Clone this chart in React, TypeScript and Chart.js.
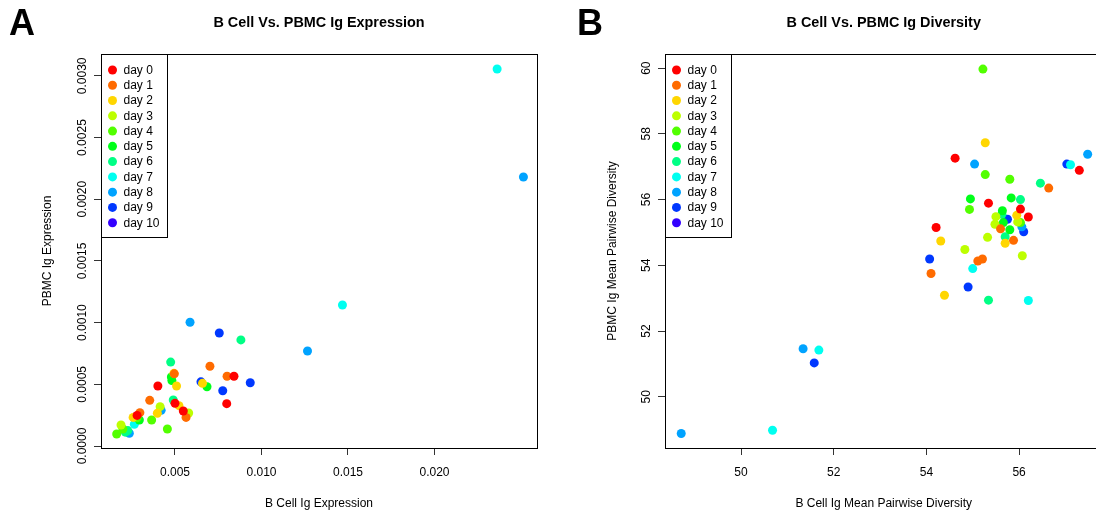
import React, { useEffect, useRef } from 'react';
import { Chart, registerables } from 'chart.js';
Chart.register(...registerables);

const FONT = "'Liberation Sans', Arial, Helvetica, sans-serif";

const dayLabels = ['day 0', 'day 1', 'day 2', 'day 3', 'day 4', 'day 5', 'day 6', 'day 7', 'day 8', 'day 9', 'day 10'];
const dayColors = ['#FF0000', '#FF6B00', '#FFD600', '#BDFF00', '#52FF00', '#00FF19', '#00FF85', '#00FFF0', '#00A3FF', '#0038FF', '#3300FF'];

// Panel A: Ig expression
const bCellExpr = [0.02362, 0.02514, 0.01468, 0.01266, 0.00587, 0.00756, 0.00881, 0.00475, 0.00702, 0.00496, 0.00494, 0.00479, 0.00482, 0.00509, 0.00401, 0.00650, 0.00659, 0.00685, 0.00801, 0.00841, 0.00935, 0.00776, 0.00799, 0.00354, 0.00490, 0.00500, 0.00523, 0.00548, 0.00564, 0.00579, 0.00414, 0.00420, 0.00398, 0.00365, 0.00456, 0.00297, 0.00281, 0.00258, 0.00294, 0.00265, 0.00188, 0.00199, 0.00213, 0.00236, 0.00163, 0.00227, 0.00281];
const pbmcExpr = [0.003055, 0.00218, 0.001143, 0.00077, 0.001003, 0.000916, 0.00086, 0.00068, 0.000646, 0.000585, 0.000589, 0.00056, 0.00053, 0.000486, 0.000486, 0.00052, 0.000508, 0.00048, 0.000565, 0.000565, 0.000513, 0.000448, 0.000343, 0.00037, 0.000373, 0.000346, 0.000327, 0.000284, 0.000232, 0.000267, 0.000319, 0.000289, 0.000265, 0.000211, 0.000138, 0.00027, 0.000248, 0.000232, 0.000211, 0.000176, 0.00017, 0.000138, 0.000112, 0.000103, 0.0000972, 0.000125, 0.000228];
const exprDay = [7, 8, 7, 8, 8, 9, 6, 6, 1, 1, 2, 5, 5, 2, 0, 9, 2, 5, 1, 0, 9, 9, 0, 1, 6, 0, 2, 0, 1, 3, 3, 8, 2, 4, 4, 1, 0, 2, 5, 7, 3, 4, 6, 8, 4, 6, 4];
const exprXTicks = [0.005, 0.01, 0.015, 0.02];
const exprYTicks = [0, 0.0005, 0.001, 0.0015, 0.002, 0.0025, 0.003];

// Panel B: Ig mean pairwise diversity
const bCellDiv = [55.22, 55.27, 54.62, 55.04, 55.27, 55.80, 57.03, 57.11, 57.48, 57.30, 56.46, 56.64, 54.95, 54.93, 55.34, 55.83, 56.03, 56.03, 56.20, 54.21, 54.31, 55.64, 55.50, 55.63, 55.75, 55.95, 55.97, 56.03, 55.48, 55.66, 55.60, 55.80, 56.06, 56.10, 55.70, 55.70, 55.88, 55.32, 54.83, 56.07, 54.07, 55.11, 55.21, 55.00, 54.10, 54.90, 54.39, 55.34, 56.20, 51.34, 51.68, 51.58, 50.68, 48.71];
const pbmcDiv = [59.97, 57.73, 57.26, 57.08, 56.76, 56.62, 57.08, 57.06, 57.38, 56.89, 56.50, 56.35, 56.02, 55.70, 55.89, 56.05, 56.00, 55.71, 55.47, 55.15, 54.74, 55.66, 55.48, 55.55, 55.40, 55.52, 55.32, 55.30, 55.25, 55.30, 55.11, 55.08, 55.17, 55.02, 54.87, 54.67, 54.76, 54.85, 54.48, 54.29, 54.19, 54.13, 54.19, 53.90, 53.75, 53.34, 53.09, 52.94, 52.93, 51.46, 51.42, 51.03, 48.98, 48.88];
const divDay = [4, 2, 0, 8, 4, 4, 9, 7, 8, 0, 6, 1, 5, 4, 0, 5, 6, 0, 0, 0, 2, 5, 3, 6, 9, 2, 3, 4, 3, 5, 1, 5, 8, 9, 6, 2, 1, 3, 3, 3, 9, 1, 1, 7, 1, 9, 2, 6, 7, 8, 7, 9, 7, 8];
const divXTicks = [50, 52, 54, 56];
const divYTicks = [50, 52, 54, 56, 58, 60];

function textWidth(labels: string[], font: string): number {
  const c = document.createElement('canvas').getContext('2d')!;
  c.font = font;
  return Math.max(...labels.map((l) => c.measureText(l).width));
}

const decor = {
  id: 'decor',
  afterDraw(chart: any, _args: any, opts: any) {
    const { ctx, chartArea: a } = chart;
    ctx.save();
    ctx.strokeStyle = '#000';
    ctx.lineWidth = 1;
    const L = Math.round(a.left) + 0.5;
    const T = Math.round(a.top) + 0.5;
    const R = Math.round(a.right) + 0.5;
    const B = Math.round(a.bottom) + 0.5;
    ctx.strokeRect(L, T, R - L, B - T);
    ctx.strokeRect(L, T, opts.legendW, opts.legendH);
    ctx.font = `12px ${FONT}`;
    ctx.textAlign = 'left';
    ctx.textBaseline = 'middle';
    dayLabels.forEach((lab, i) => {
      const y = a.top + opts.rowTop + i * opts.rowStep;
      ctx.beginPath();
      ctx.arc(a.left + opts.dotX, y, 4.5, 0, Math.PI * 2);
      ctx.fillStyle = dayColors[i];
      ctx.fill();
      ctx.fillStyle = '#000';
      ctx.fillText(lab, a.left + opts.textX, y + 0.5);
    });
    ctx.font = `bold 36px ${FONT}`;
    ctx.textBaseline = 'alphabetic';
    ctx.fillStyle = '#000';
    ctx.fillText(opts.letter, opts.letterX, opts.letterY);
    ctx.restore();
  },
};

type Panel = {
  xs: number[];
  ys: number[];
  days: number[];
  xTicks: number[];
  yTicks: number[];
  xFmt: (v: number) => string;
  yFmt: (v: number) => string;
  xMin: number;
  xMax: number;
  yMin: number;
  yMax: number;
  title: string;
  xTitle: string;
  yTitle: string;
  yAxisWidth: number;
  yTitleX: number;
  padRight: number;
  letter: string;
  letterX: number;
};

function makeConfig(p: Panel): any {
  const datasets = dayLabels.map((lab, d) => ({
    label: lab,
    data: p.xs
      .map((x, i) => ({ x, y: p.ys[i], d: p.days[i] }))
      .filter((pt) => pt.d === d)
      .map(({ x, y }) => ({ x, y })),
    backgroundColor: dayColors[d],
    borderWidth: 0,
    pointRadius: 4.5,
    pointHoverRadius: 4.5,
  }));
  const tickFont = { family: FONT, size: 12, lineHeight: 1.2 };
  const yLabels = p.yTicks.map(p.yFmt);
  const yWidest = textWidth(yLabels, `12px ${FONT}`);
  const labelGap = 18; // distance from plot edge to label centre
  return {
    type: 'scatter',
    data: { datasets },
    options: {
      responsive: false,
      animation: false,
      events: [],
      layout: { padding: { left: 0, right: p.padRight, top: 0, bottom: 0 } },
      plugins: {
        legend: { display: false },
        tooltip: { enabled: false },
        title: {
          display: true,
          text: p.title,
          fullSize: false,
          color: '#000',
          font: { family: FONT, size: 14.4, weight: 'bold', lineHeight: 1.2 },
          padding: { top: 14.36, bottom: 22.36 },
        },
        decor: {
          letter: p.letter,
          letterX: p.letterX,
          letterY: 35,
          legendW: 66,
          legendH: 183,
          rowTop: 16,
          rowStep: 15.27,
          dotX: 11.5,
          textX: 22.5,
        },
      },
      scales: {
        x: {
          type: 'linear',
          position: 'bottom',
          min: p.xMin,
          max: p.xMax,
          afterBuildTicks: (s: any) => {
            s.ticks = p.xTicks.map((v) => ({ value: v }));
          },
          afterFit: (s: any) => {
            s.height = 64;
          },
          grid: { display: true, drawOnChartArea: false, drawTicks: true, tickLength: 7, tickColor: '#333', lineWidth: 1 },
          border: { display: false },
          ticks: {
            autoSkip: false,
            maxRotation: 0,
            minRotation: 0,
            padding: 10.8,
            color: '#000',
            font: tickFont,
            callback: (v: any) => p.xFmt(Number(v)),
          },
          title: {
            display: true,
            text: p.xTitle,
            color: '#000',
            font: { family: FONT, size: 12, lineHeight: 1.2 },
            padding: { top: 0, bottom: 1.3 },
          },
        },
        y: {
          type: 'linear',
          position: 'left',
          min: p.yMin,
          max: p.yMax,
          afterBuildTicks: (s: any) => {
            s.ticks = p.yTicks.map((v) => ({ value: v }));
          },
          afterFit: (s: any) => {
            s.width = p.yAxisWidth;
          },
          grid: { display: true, drawOnChartArea: false, drawTicks: true, tickLength: 7, tickColor: '#333', lineWidth: 1 },
          border: { display: false },
          ticks: {
            autoSkip: false,
            minRotation: 90,
            maxRotation: 90,
            crossAlign: 'center',
            padding: labelGap - 7 - yWidest / 2,
            color: '#000',
            font: tickFont,
            callback: (v: any) => p.yFmt(Number(v)),
          },
          title: {
            display: true,
            text: p.yTitle,
            color: '#000',
            font: { family: FONT, size: 12, lineHeight: 1.2 },
            padding: { top: p.yTitleX - 7.2, bottom: 0 },
          },
        },
      },
    },
    plugins: [decor],
  };
}

const panelA: Panel = {
  xs: bCellExpr,
  ys: pbmcExpr,
  days: exprDay,
  xTicks: exprXTicks,
  yTicks: exprYTicks,
  xFmt: (v) => v.toFixed(3),
  yFmt: (v) => v.toFixed(4),
  xMin: 0.000723,
  xMax: 0.025925,
  yMin: -0.0000162,
  yMax: 0.003177,
  title: 'B Cell Vs. PBMC Ig Expression',
  xTitle: 'B Cell Ig Expression',
  yTitle: 'PBMC Ig Expression',
  yAxisWidth: 101,
  yTitleX: 47.5,
  padRight: 11,
  letter: 'A',
  letterX: 9,
};

const panelB: Panel = {
  xs: bCellDiv,
  ys: pbmcDiv,
  days: divDay,
  xTicks: divXTicks,
  yTicks: divYTicks,
  xFmt: (v) => String(v),
  yFmt: (v) => String(v),
  xMin: 48.36,
  xMax: 57.8,
  yMin: 48.44,
  yMax: 60.43,
  title: 'B Cell Vs. PBMC Ig Diversity',
  xTitle: 'B Cell Ig Mean Pairwise Diversity',
  yTitle: 'PBMC Ig Mean Pairwise Diversity',
  yAxisWidth: 117,
  yTitleX: 64.5,
  padRight: 15.5,
  letter: 'B',
  letterX: 29,
};

export default function App() {
  const refA = useRef<HTMLCanvasElement>(null);
  const refB = useRef<HTMLCanvasElement>(null);
  useEffect(() => {
    const a = new Chart(refA.current!, makeConfig(panelA));
    const b = new Chart(refB.current!, makeConfig(panelB));
    return () => {
      a.destroy();
      b.destroy();
    };
  }, []);
  return (
    <div style={{ position: 'fixed', left: 0, top: 0, width: 1096, height: 512, overflow: 'hidden', background: '#fff' }}>
      <div style={{ position: 'absolute', left: 0, top: 0, width: 548, height: 512 }}>
        <canvas ref={refA} width={548} height={512} style={{ display: 'block' }} />
      </div>
      <div style={{ position: 'absolute', left: 548, top: 0, width: 570, height: 512 }}>
        <canvas ref={refB} width={570} height={512} style={{ display: 'block' }} />
      </div>
    </div>
  );
}
